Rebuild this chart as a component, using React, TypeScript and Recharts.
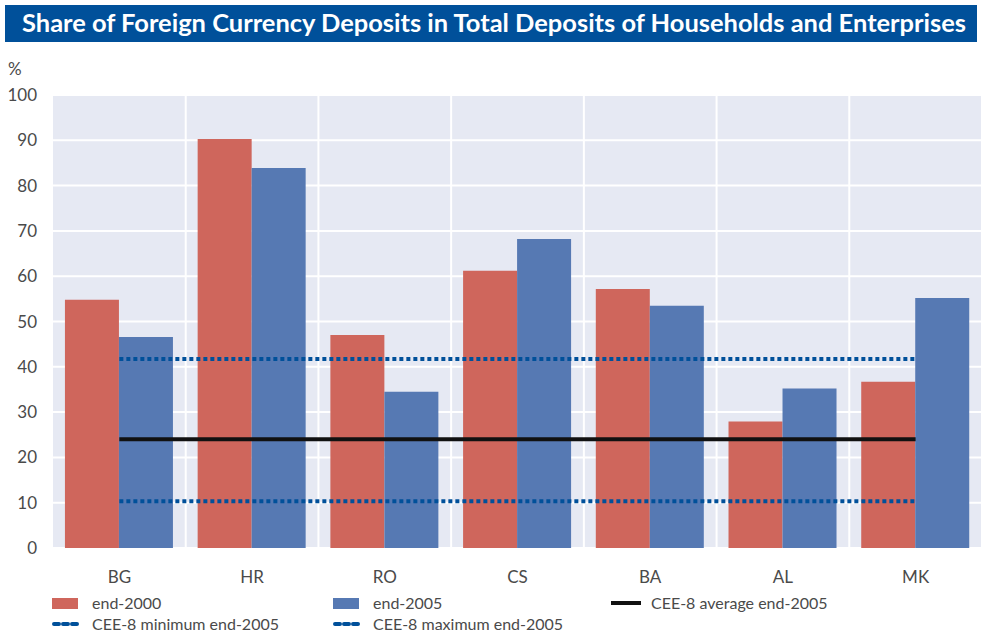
import { Bar, Line, XAxis, YAxis, CartesianGrid, ComposedChart } from 'recharts';

const countries = ['BG', 'HR', 'RO', 'CS', 'BA', 'AL', 'MK'];
const end2000 = [54.8, 90.3, 47.0, 61.2, 57.2, 27.9, 36.7];
const end2005 = [46.6, 83.9, 34.5, 68.2, 53.5, 35.2, 55.2];
const ceeAverage = 24.0;
const ceeMinimum = 10.3;
const ceeMaximum = 41.7;
const yTicks = [0, 10, 20, 30, 40, 50, 60, 70, 80, 90, 100];

const data = countries.map((c, i) => ({
  country: c,
  end2000: end2000[i],
  end2005: end2005[i],
  avg: ceeAverage,
  min: ceeMinimum,
  max: ceeMaximum,
}));

const RED = '#cf665c';
const BLUE = '#5679b3';
const NAVY = '#00509a';
const TEXT = '#4a4a4a';
const FONT = 'Lato, "Open Sans", sans-serif';

const legendItems = [
  { label: 'end-2000', kind: 'bar', color: RED, x: 52, y: 594 },
  { label: 'end-2005', kind: 'bar', color: BLUE, x: 333, y: 594 },
  { label: 'CEE-8 average end-2005', kind: 'line', color: '#111', x: 611, y: 594 },
  { label: 'CEE-8 minimum end-2005', kind: 'dot', color: NAVY, x: 52, y: 615 },
  { label: 'CEE-8 maximum end-2005', kind: 'dot', color: NAVY, x: 333, y: 615 },
];

export default function App() {
  return (
    <div style={{ position: 'relative', width: 981, height: 634, background: '#fff', fontFamily: FONT, overflow: 'hidden' }}>
      <style>{'body{margin:0}'}</style>
      <svg width={981} height={45} style={{ position: 'absolute', left: 0, top: 0 }}>
        <rect x={5} y={5} width={972} height={37} fill={NAVY} />
        <text
          x={22}
          y={32}
          fill="#fff"
          fontSize={24}
          fontWeight={700}
          fontFamily={FONT}
          textLength={944}
          lengthAdjust="spacingAndGlyphs"
        >
          Share of Foreign Currency Deposits in Total Deposits of Households and Enterprises
        </text>
      </svg>
      <div style={{ position: 'absolute', left: 8, top: 58, fontSize: 17, color: TEXT }}>%</div>
      <div style={{ position: 'absolute', left: 0, top: 0 }}>
        <ComposedChart
          width={981}
          height={600}
          data={data}
          margin={{ top: 95, right: -1, bottom: 0, left: 0 }}
          barCategoryGap="9%"
          barGap={0}
        >
          <CartesianGrid
            fill="#e6e9f3"
            stroke="#fff"
            strokeWidth={2}
            horizontalValues={yTicks}
            verticalCoordinatesGenerator={({ offset }: any) =>
              countries.slice(1).map((_, i) => offset.left + ((i + 1) * offset.width) / countries.length)
            }
          />
          <XAxis
            dataKey="country"
            axisLine={false}
            tickLine={false}
            height={52}
            tickMargin={17}
            tick={{ fill: TEXT, fontSize: 17, fontFamily: FONT }}
          />
          <YAxis
            domain={[0, 100]}
            ticks={yTicks}
            width={53}
            axisLine={false}
            tickLine={false}
            tickMargin={10}
            tick={{ fill: TEXT, fontSize: 17, fontFamily: FONT }}
          />
          <Bar dataKey="end2000" fill={RED} isAnimationActive={false} />
          <Bar dataKey="end2005" fill={BLUE} isAnimationActive={false} />
          <Line dataKey="avg" stroke="#111" strokeWidth={4} dot={false} isAnimationActive={false} />
          <Line dataKey="min" stroke={NAVY} strokeWidth={4} strokeDasharray="4 3" dot={false} isAnimationActive={false} />
          <Line dataKey="max" stroke={NAVY} strokeWidth={4} strokeDasharray="4 3" dot={false} isAnimationActive={false} />
        </ComposedChart>
      </div>
      {legendItems.map((it) => (
        <div
          key={it.label}
          style={{
            position: 'absolute',
            left: it.x,
            top: it.y,
            height: 18,
            lineHeight: '18px',
            display: 'flex',
            alignItems: 'center',
            fontSize: 16,
            color: TEXT,
          }}
        >
          <svg width={40} height={18}>
            {it.kind === 'bar' && <rect x={0} y={4} width={26} height={11} fill={it.color} />}
            {it.kind === 'line' && <line x1={0} x2={30} y1={9} y2={9} stroke={it.color} strokeWidth={4} />}
            {it.kind === 'dot' && (
              <line x1={2} x2={27} y1={9} y2={9} stroke={it.color} strokeWidth={4} strokeDasharray="5 4" strokeLinecap="round" />
            )}
          </svg>
          <span>{it.label}</span>
        </div>
      ))}
    </div>
  );
}
